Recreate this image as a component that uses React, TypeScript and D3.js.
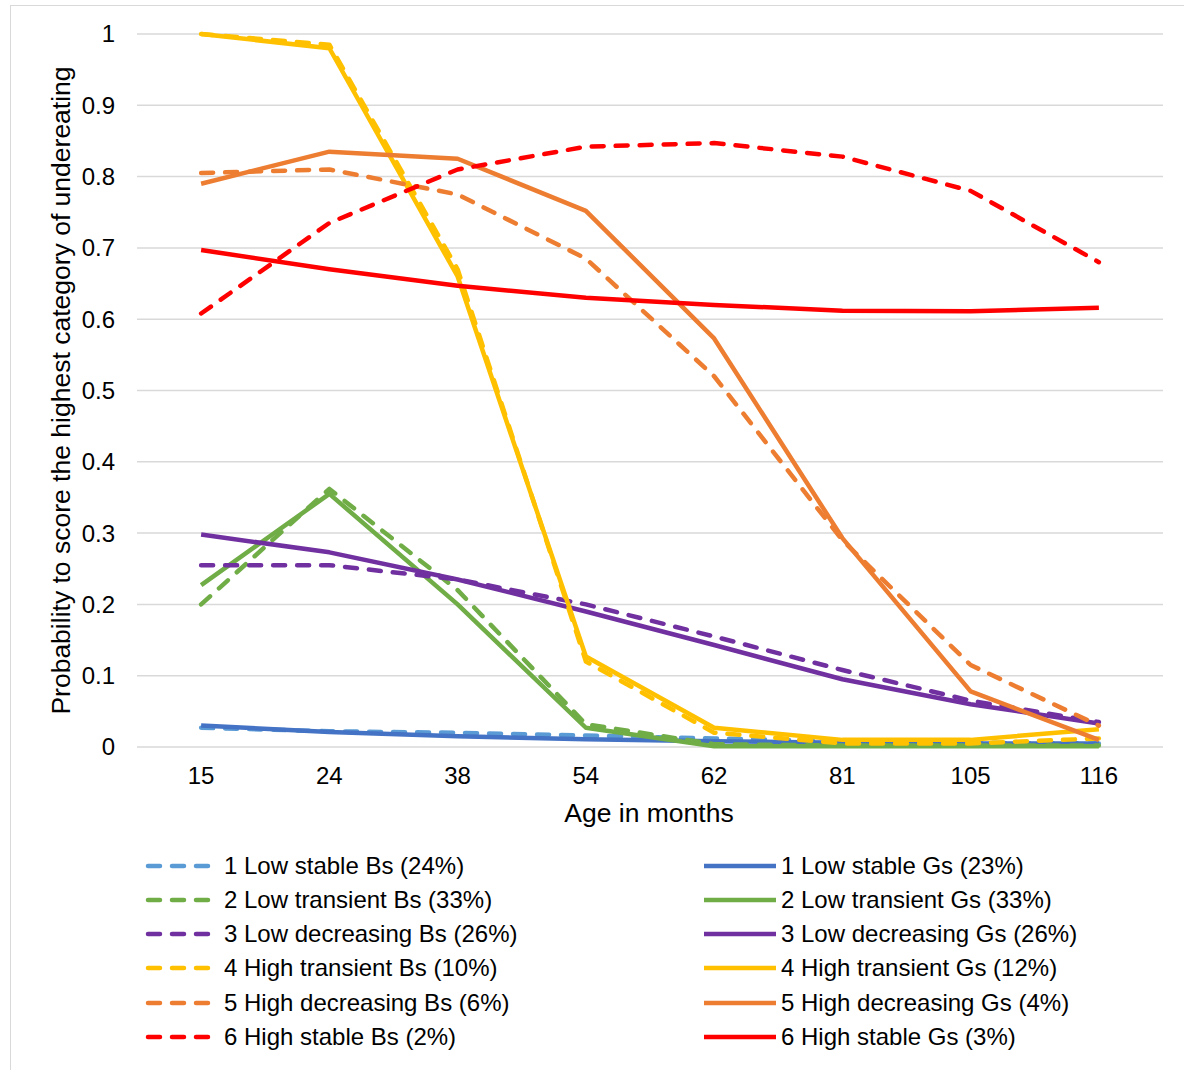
import React from "react";
import * as d3 from "d3";

const ages = ["15", "24", "38", "54", "62", "81", "105", "116"];
const yTicks = [0, 0.1, 0.2, 0.3, 0.4, 0.5, 0.6, 0.7, 0.8, 0.9, 1];

const lowStableBs = [0.027, 0.022, 0.02, 0.016, 0.012, 0.008, 0.006, 0.005];
const lowStableGs = [0.03, 0.021, 0.015, 0.011, 0.008, 0.006, 0.005, 0.005];
const lowTransientBs = [0.2, 0.362, 0.22, 0.032, 0.004, 0.002, 0.002, 0.002];
const lowTransientGs = [0.227, 0.355, 0.2, 0.027, 0.001, 0.001, 0.001, 0.001];
const lowDecreasingBs = [0.255, 0.255, 0.235, 0.2, 0.155, 0.108, 0.065, 0.035];
const lowDecreasingGs = [0.298, 0.273, 0.235, 0.19, 0.143, 0.095, 0.06, 0.033];
const highTransientBs = [1.0, 0.985, 0.67, 0.12, 0.02, 0.005, 0.005, 0.012];
const highTransientGs = [1.0, 0.98, 0.66, 0.127, 0.027, 0.01, 0.01, 0.025];
const highDecreasingBs = [0.805, 0.81, 0.775, 0.685, 0.52, 0.29, 0.115, 0.03];
const highDecreasingGs = [0.79, 0.835, 0.825, 0.752, 0.573, 0.293, 0.078, 0.01];
const highStableBs = [0.608, 0.735, 0.81, 0.842, 0.847, 0.828, 0.78, 0.68];
const highStableGs = [0.697, 0.67, 0.647, 0.63, 0.62, 0.612, 0.611, 0.616];

type Series = { name: string; values: number[]; color: string };

const seriesBs: Series[] = [
  { name: "1 Low stable Bs (24%)", values: lowStableBs, color: "#5B9BD5" },
  { name: "2 Low transient Bs (33%)", values: lowTransientBs, color: "#70AD47" },
  { name: "3 Low decreasing Bs (26%)", values: lowDecreasingBs, color: "#7030A0" },
  { name: "4 High transient Bs (10%)", values: highTransientBs, color: "#FFC000" },
  { name: "5 High decreasing Bs (6%)", values: highDecreasingBs, color: "#ED7D31" },
  { name: "6 High stable Bs (2%)", values: highStableBs, color: "#FF0000" },
];
const seriesGs: Series[] = [
  { name: "1 Low stable Gs (23%)", values: lowStableGs, color: "#4472C4" },
  { name: "2 Low transient Gs (33%)", values: lowTransientGs, color: "#70AD47" },
  { name: "3 Low decreasing Gs (26%)", values: lowDecreasingGs, color: "#7030A0" },
  { name: "4 High transient Gs (12%)", values: highTransientGs, color: "#FFC000" },
  { name: "5 High decreasing Gs (4%)", values: highDecreasingGs, color: "#ED7D31" },
  { name: "6 High stable Gs (3%)", values: highStableGs, color: "#FF0000" },
];

const W = 1184;
const H = 1070;
const M = { left: 137, right: 1163, top: 34, bottom: 747 };
const FONT = "'Liberation Sans', Arial, sans-serif";

export default function App() {
  const x = d3.scalePoint<string>().domain(ages).range([M.left, M.right]).padding(0.5);
  const y = d3.scaleLinear().domain([0, 1]).range([M.bottom, M.top]);

  const line = d3
    .line<number>()
    .x((_, i) => x(ages[i]) as number)
    .y((d) => y(d));

  const lw = 4.5;
  const dash = "12 12";
  const legendRows = [866, 900, 934, 968, 1003, 1037];

  const order: { s: Series; dashed: boolean }[] = [];
  for (let i = 0; i < 6; i++) {
    order.push({ s: seriesBs[i], dashed: true });
    order.push({ s: seriesGs[i], dashed: false });
  }

  return (
    <svg
      width={W}
      height={H}
      style={{ position: "absolute", left: 0, top: 0, background: "#fff" }}
      fontFamily={FONT}
    >
      <rect x={0} y={0} width={W} height={H} fill="#fff" />
      <rect x={10.5} y={5.5} width={W} height={H} fill="none" stroke="#d9d9d9" strokeWidth={1} />
      {yTicks.map((t) => (
        <g key={t}>
          <line x1={M.left} x2={M.right} y1={y(t)} y2={y(t)} stroke="#d9d9d9" strokeWidth={1.5} />
          <text x={115} y={y(t)} dy="0.35em" textAnchor="end" fontSize={24} fill="#000">
            {t}
          </text>
        </g>
      ))}
      {ages.map((a) => (
        <text key={a} x={x(a)} y={784} textAnchor="middle" fontSize={24} fill="#000">
          {a}
        </text>
      ))}
      <text x={649} y={822} textAnchor="middle" fontSize={26.5} fill="#000">
        Age in months
      </text>
      <text
        transform={`translate(70, ${(M.top + M.bottom) / 2}) rotate(-90)`}
        textAnchor="middle"
        fontSize={26.5}
        fill="#000"
      >
        Probability to score the highest category of undereating
      </text>
      {order.map(({ s, dashed }, k) => (
        <path
          key={k}
          d={line(s.values) || ""}
          fill="none"
          stroke={s.color}
          strokeWidth={lw}
          strokeDasharray={dashed ? dash : undefined}
          strokeLinecap={dashed ? "round" : "butt"}
          strokeLinejoin="round"
        />
      ))}
      {seriesBs.map((s, i) => (
        <g key={s.name}>
          <line
            x1={148}
            x2={212}
            y1={legendRows[i]}
            y2={legendRows[i]}
            stroke={s.color}
            strokeWidth={lw}
            strokeDasharray={dash}
            strokeLinecap="round"
          />
          <text x={224} y={legendRows[i]} dy="0.35em" fontSize={24} fill="#000">
            {s.name}
          </text>
        </g>
      ))}
      {seriesGs.map((s, i) => (
        <g key={s.name}>
          <line
            x1={704}
            x2={776}
            y1={legendRows[i]}
            y2={legendRows[i]}
            stroke={s.color}
            strokeWidth={lw}
          />
          <text x={781} y={legendRows[i]} dy="0.35em" fontSize={24} fill="#000">
            {s.name}
          </text>
        </g>
      ))}
    </svg>
  );
}
